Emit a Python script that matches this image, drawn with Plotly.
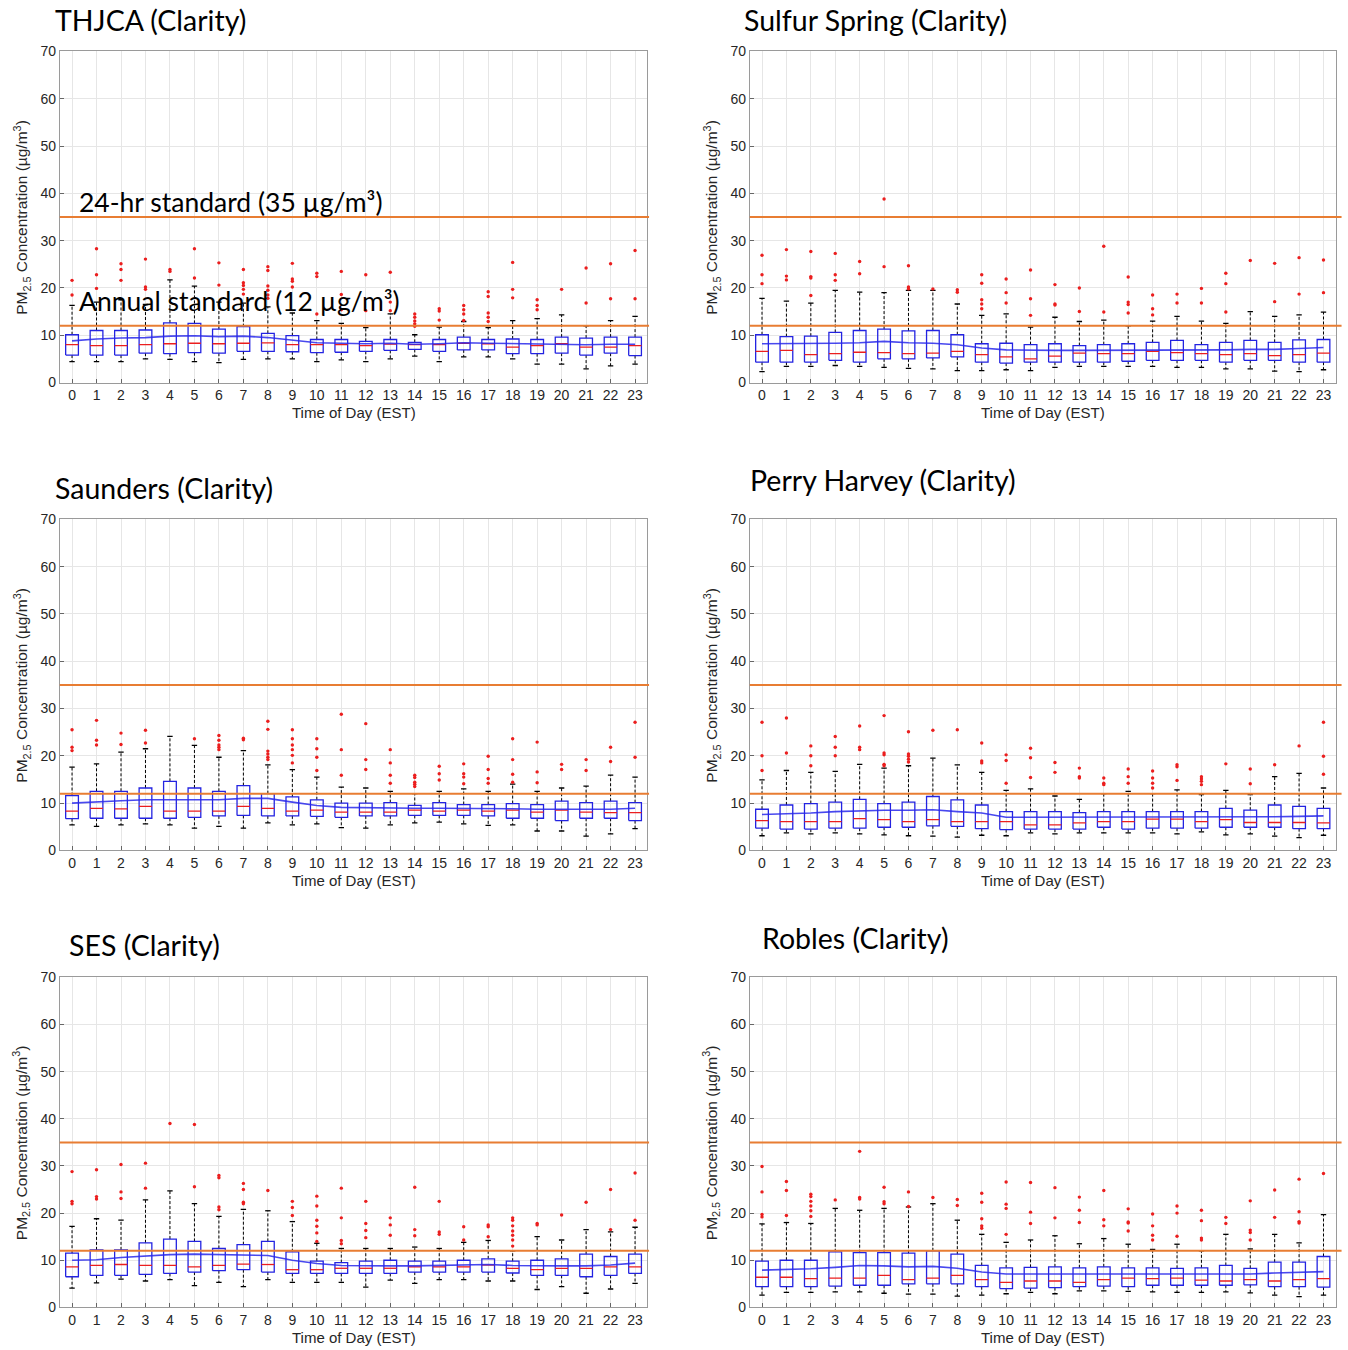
import plotly.graph_objects as go

# ---------------------------------------------------------------------------
# Hourly PM2.5 box-plot statistics (µg/m³) for six Clarity sensor sites
# ---------------------------------------------------------------------------
HOURS = list(range(24))
HOUR_LABELS = [str(h) for h in HOURS]

STANDARD_24HR = 35
STANDARD_ANNUAL = 12

# THJCA
THJCA_LO = [4.4, 4.4, 4.4, 5.0, 4.9, 4.4, 4.2, 4.9, 5.0, 5.0, 4.4, 4.8, 4.4, 5.0, 5.6, 4.4, 5.4, 5.4, 5.0, 3.9, 3.9, 2.9, 3.5, 3.9]
THJCA_Q1 = [5.8, 5.8, 5.8, 6.2, 6.1, 6.3, 6.2, 6.6, 6.6, 6.5, 6.3, 6.4, 6.6, 6.8, 7.0, 6.6, 6.9, 6.9, 6.1, 6.1, 6.2, 5.8, 6.2, 5.7]
THJCA_MED = [8.0, 7.8, 7.8, 8.0, 8.2, 8.3, 8.2, 8.3, 8.4, 8.0, 8.0, 8.0, 7.8, 8.1, 8.0, 8.0, 8.3, 8.2, 7.5, 7.8, 8.2, 7.5, 7.5, 7.8]
THJCA_Q3 = [10.1, 11.0, 11.0, 11.1, 12.6, 12.5, 11.3, 11.8, 10.4, 9.9, 9.1, 9.1, 8.7, 9.1, 8.5, 9.1, 9.6, 9.1, 9.2, 9.1, 9.6, 9.4, 9.6, 9.6]
THJCA_HI = [16.3, 17.0, 17.5, 16.5, 21.7, 20.4, 17.0, 16.8, 16.0, 14.7, 13.1, 12.5, 11.6, 14.5, 10.1, 11.7, 12.9, 11.6, 13.1, 13.5, 14.3, 12.0, 13.1, 14.0]
THJCA_MEAN = [8.8, 9.2, 9.4, 9.5, 9.8, 9.9, 9.7, 9.8, 9.5, 9.0, 8.4, 8.3, 8.2, 8.3, 8.1, 8.2, 8.4, 8.3, 8.2, 8.1, 8.1, 8.0, 8.1, 8.1]
THJCA_OUT = [
    [21.6, 18.5], [28.3, 22.8, 19.9], [25.1, 23.9, 21.6], [26.1, 20.2, 19.7],
    [23.9, 23.5], [28.3, 22.1], [25.3, 20.6], [23.9, 21.1, 20.5, 19.7, 18.7],
    [24.5, 23.7, 20.4, 19.5, 18.5, 17.8], [25.2, 21.9, 21.4, 20.2], [23.1, 22.4, 14.5], [23.5, 18.6, 15.4],
    [22.8, 15.2], [23.3, 17.0, 15.2], [14.5, 13.8, 13.0, 12.4, 11.9], [15.6, 15.1, 13.2],
    [16.3, 15.4, 14.5, 13.1], [19.2, 18.2, 14.7, 13.8, 12.9], [25.4, 19.7, 17.9], [17.5, 16.3, 15.4],
    [19.7], [24.2, 16.8], [25.1, 17.7], [27.9, 17.7],
]

# Sulfur Spring
SULFUR_LO = [2.3, 3.4, 3.4, 3.6, 3.4, 3.2, 3.0, 2.9, 2.5, 2.5, 2.7, 2.5, 3.2, 3.4, 3.4, 3.4, 3.4, 3.2, 3.2, 2.9, 2.9, 2.4, 2.3, 2.7]
SULFUR_Q1 = [4.3, 4.3, 4.3, 4.7, 4.3, 5.0, 5.0, 5.2, 5.4, 4.3, 4.1, 4.3, 4.3, 4.3, 4.3, 4.5, 4.7, 4.7, 4.7, 4.3, 4.7, 4.7, 4.3, 4.3]
SULFUR_MED = [6.6, 6.8, 5.9, 6.1, 6.4, 6.3, 6.1, 6.2, 6.6, 5.9, 5.4, 5.0, 5.6, 6.2, 6.1, 6.1, 6.6, 6.3, 6.1, 5.9, 6.1, 5.7, 5.9, 6.2]
SULFUR_Q3 = [10.1, 9.7, 9.8, 10.6, 11.0, 11.3, 10.9, 11.0, 10.1, 8.2, 8.3, 8.0, 8.2, 7.8, 8.0, 8.2, 8.5, 8.9, 8.0, 8.5, 8.9, 8.5, 9.0, 9.1]
SULFUR_HI = [17.8, 17.2, 16.8, 19.5, 19.1, 19.0, 19.5, 19.5, 16.6, 14.2, 14.5, 11.7, 13.8, 12.9, 13.2, 12.0, 13.0, 14.0, 13.0, 12.5, 15.0, 14.0, 14.3, 14.9]
SULFUR_MEAN = [8.2, 8.2, 8.2, 8.3, 8.4, 8.7, 8.4, 8.3, 8.0, 7.3, 6.9, 6.8, 6.8, 6.8, 6.8, 6.9, 6.9, 6.9, 6.9, 6.9, 7.0, 7.0, 7.2, 7.4]
SULFUR_OUT = [
    [26.9, 22.8, 20.9], [28.1, 22.5, 21.7], [27.7, 22.4, 22.1, 18.4], [27.3, 22.8, 21.6],
    [25.6, 23.0], [38.8, 24.5], [24.7, 20.2, 19.8], [19.8],
    [19.6, 19.1], [22.8, 21.0, 17.5, 16.6, 15.6], [21.9, 19.0, 16.8], [23.8, 17.7, 14.2],
    [20.7, 16.6, 16.4], [20.0, 15.0], [28.8, 14.9], [22.3, 17.0, 16.5, 14.7],
    [18.5, 15.6, 14.3], [18.7, 16.8], [19.9, 16.8], [23.1, 20.9, 14.9],
    [25.8], [25.2, 17.1], [26.4, 18.7], [25.9, 19.0],
]

# Saunders
SAUNDERS_LO = [5.4, 5.1, 5.4, 5.6, 5.4, 4.7, 5.1, 4.7, 5.8, 5.4, 5.6, 4.8, 4.7, 5.4, 5.8, 6.0, 5.6, 5.3, 5.4, 4.1, 4.1, 3.0, 3.5, 4.6]
SAUNDERS_Q1 = [6.7, 6.8, 6.8, 6.8, 6.8, 7.0, 7.3, 7.4, 7.3, 7.3, 7.2, 7.0, 7.3, 7.3, 7.4, 7.4, 7.4, 7.3, 6.8, 6.8, 6.3, 6.8, 6.8, 6.3]
SAUNDERS_MED = [8.3, 8.9, 8.8, 9.3, 8.3, 8.3, 8.3, 9.3, 8.9, 8.3, 8.5, 8.1, 8.1, 8.1, 8.5, 8.3, 8.5, 8.3, 8.5, 8.1, 8.5, 8.1, 8.0, 8.0]
SAUNDERS_Q3 = [11.6, 12.5, 12.5, 13.2, 14.6, 13.2, 12.5, 13.7, 12.0, 11.3, 10.7, 10.0, 10.0, 10.1, 9.5, 10.1, 9.7, 9.7, 9.9, 9.7, 10.4, 10.1, 10.4, 10.1]
SAUNDERS_HI = [17.6, 18.3, 20.8, 21.5, 24.1, 22.2, 19.7, 21.1, 18.1, 17.1, 15.5, 13.4, 13.2, 12.5, 12.0, 12.5, 13.0, 12.5, 14.0, 12.5, 13.2, 13.6, 15.9, 15.5]
SAUNDERS_MEAN = [10.0, 10.3, 10.5, 10.7, 10.7, 10.7, 10.7, 11.0, 11.0, 10.2, 9.5, 9.1, 9.0, 8.9, 8.9, 8.9, 8.9, 8.9, 8.8, 8.7, 8.7, 8.7, 8.7, 8.9]
SAUNDERS_OUT = [
    [25.5, 21.8, 21.1], [27.5, 23.3, 22.3], [24.8, 22.4], [25.4, 22.7],
    [], [23.6], [24.3, 23.3, 22.3, 21.8, 21.3], [23.7, 23.4],
    [27.3, 25.6, 21.0, 20.4, 19.7, 19.2], [25.5, 23.6, 22.3, 21.3, 20.1, 18.5], [23.6, 21.5, 19.7, 16.9], [28.8, 21.3, 15.9],
    [26.8, 19.2, 17.1], [21.3, 18.5, 15.9, 14.2], [15.9, 15.4, 14.4, 14.0, 13.5], [17.8, 16.2, 14.9],
    [18.3, 16.2, 15.5, 14.1], [19.9, 17.1, 15.2, 14.2], [23.6, 19.2, 16.1, 14.4], [22.9, 16.6, 14.3],
    [18.2, 17.1], [19.2, 16.9], [21.8, 18.8], [27.1, 19.7],
]

# Perry Harvey
PERRY_LO = [3.1, 3.7, 3.5, 3.7, 3.5, 3.3, 3.1, 3.0, 2.8, 3.2, 3.1, 3.7, 3.5, 3.7, 3.7, 3.7, 3.7, 3.5, 3.9, 3.3, 3.5, 3.0, 2.7, 3.2]
PERRY_Q1 = [4.7, 4.5, 4.5, 4.7, 4.7, 4.9, 4.9, 5.2, 5.1, 4.6, 4.4, 4.5, 4.5, 4.5, 4.9, 4.5, 4.7, 4.7, 4.7, 4.9, 4.9, 4.9, 4.6, 4.6]
PERRY_MED = [6.3, 6.1, 6.1, 6.1, 6.7, 6.5, 6.1, 6.5, 6.1, 6.1, 6.1, 5.4, 5.4, 5.8, 6.1, 6.1, 6.6, 6.6, 6.1, 6.5, 5.9, 5.9, 5.9, 5.8]
PERRY_Q3 = [8.7, 9.6, 9.9, 10.2, 10.8, 9.9, 10.2, 11.4, 10.7, 9.6, 8.2, 8.2, 8.2, 8.0, 8.2, 8.2, 8.2, 8.2, 8.2, 8.9, 8.5, 9.6, 9.3, 8.9]
PERRY_HI = [14.9, 16.9, 16.5, 16.7, 18.2, 17.4, 17.9, 19.5, 18.1, 16.5, 12.7, 13.0, 11.5, 10.8, 12.0, 12.5, 12.0, 12.8, 11.8, 12.7, 11.8, 15.6, 16.3, 13.2]
PERRY_MEAN = [7.6, 7.7, 7.9, 8.2, 8.4, 8.5, 8.5, 8.6, 8.2, 7.9, 7.0, 7.0, 7.0, 7.0, 7.0, 7.0, 7.0, 7.0, 7.0, 7.0, 7.0, 7.1, 7.2, 7.3]
PERRY_OUT = [
    [27.1, 20.0, 16.9], [28.0, 20.6], [22.1, 20.0, 17.9], [24.1, 21.8, 20.0],
    [26.3, 21.8, 21.3], [28.5, 20.6, 20.2, 18.2, 17.9], [25.1, 20.4, 19.9, 19.3, 18.7], [25.4],
    [25.5], [22.7, 18.9, 18.5], [20.2, 19.0, 14.2], [21.6, 19.6, 15.4],
    [18.6, 16.5], [17.4, 15.6, 15.3], [15.3, 14.2, 13.9], [17.2, 15.6, 14.2],
    [16.8, 15.3, 14.2, 13.2], [18.1, 17.7, 14.8], [15.6, 15.1, 14.6, 13.9], [18.3],
    [17.2, 14.1], [18.1], [22.1], [27.1, 19.9, 16.1],
]

# SES
SES_LO = [4.1, 5.2, 6.0, 5.6, 5.9, 4.6, 5.3, 4.4, 5.9, 5.3, 5.3, 5.3, 4.3, 5.8, 5.1, 5.9, 5.9, 5.6, 5.6, 3.8, 4.4, 3.0, 3.9, 5.1]
SES_Q1 = [6.5, 6.8, 6.8, 7.0, 7.2, 7.5, 7.8, 8.0, 7.5, 7.2, 7.2, 7.2, 7.2, 7.2, 7.5, 7.5, 7.5, 7.5, 7.3, 6.8, 6.8, 6.5, 6.8, 7.2]
SES_MED = [8.6, 8.9, 9.1, 8.9, 8.9, 8.6, 8.9, 9.2, 9.1, 8.0, 8.0, 8.3, 8.3, 8.3, 8.6, 8.6, 8.6, 9.0, 8.3, 8.0, 8.3, 8.3, 8.6, 8.6]
SES_Q3 = [11.5, 12.2, 12.2, 13.7, 14.5, 14.0, 12.5, 13.3, 14.0, 11.8, 9.8, 9.5, 9.8, 10.0, 9.8, 9.8, 10.0, 10.3, 9.8, 10.0, 10.3, 11.3, 10.8, 11.3]
SES_HI = [17.2, 18.8, 18.5, 22.8, 24.7, 22.0, 19.3, 20.8, 20.5, 18.2, 13.6, 12.5, 12.5, 12.5, 12.8, 12.5, 13.8, 14.2, 12.0, 15.0, 14.3, 16.5, 16.0, 17.0]
SES_MEAN = [10.0, 10.1, 10.6, 10.9, 11.2, 11.3, 11.2, 11.2, 11.0, 10.0, 9.3, 8.9, 8.8, 8.8, 8.8, 8.9, 8.9, 9.1, 8.9, 8.8, 8.8, 8.8, 9.0, 9.4]
SES_OUT = [
    [28.8, 22.5, 22.0], [29.2, 23.5, 23.0], [30.3, 24.5, 23.1], [30.6, 25.3],
    [39.0], [38.8, 25.6], [28.0, 27.5, 21.3, 20.7], [26.3, 25.0, 22.3, 22.0],
    [24.8], [22.5, 21.2, 19.5], [23.6, 21.5, 18.5, 17.2, 15.8, 14.0], [25.3, 19.0, 14.2, 13.5],
    [22.5, 17.8, 16.3, 14.8], [19.0, 17.5, 15.3], [25.5, 16.5, 15.2], [22.5, 16.0, 15.5],
    [17.1, 14.3], [17.5, 17.1, 15.0], [19.0, 18.5, 17.3, 16.2, 15.3, 14.3, 13.0], [17.8, 17.5],
    [19.6], [22.3], [25.0, 16.5], [28.5, 18.5],
]

# Robles
ROBLES_LO = [2.6, 3.2, 3.2, 3.3, 3.3, 3.0, 2.8, 2.8, 2.4, 2.6, 2.9, 3.2, 2.9, 3.5, 3.5, 3.4, 3.3, 3.2, 3.2, 3.3, 3.1, 2.6, 2.3, 2.6]
ROBLES_Q1 = [4.4, 4.4, 4.4, 4.5, 4.7, 4.7, 5.0, 5.0, 5.0, 4.4, 4.0, 4.1, 4.2, 4.4, 4.5, 4.4, 4.7, 4.7, 4.7, 4.7, 4.8, 4.4, 4.4, 4.3]
ROBLES_MED = [6.4, 6.4, 6.1, 6.2, 6.2, 6.8, 5.9, 6.2, 6.8, 5.9, 5.3, 5.6, 5.6, 5.3, 5.9, 6.2, 6.1, 6.2, 5.8, 5.6, 5.9, 5.6, 5.9, 6.1]
ROBLES_Q3 = [9.8, 10.0, 10.0, 11.8, 11.6, 11.6, 11.5, 12.0, 11.3, 8.9, 8.4, 8.5, 8.6, 8.4, 8.6, 8.4, 8.4, 8.3, 8.4, 8.9, 8.3, 9.6, 9.6, 10.8]
ROBLES_HI = [17.7, 18.0, 17.8, 21.0, 20.6, 21.0, 21.3, 22.0, 18.5, 15.5, 13.8, 14.3, 15.2, 13.5, 14.6, 13.4, 12.3, 13.4, 12.0, 15.5, 12.4, 15.5, 13.7, 19.7]
ROBLES_MEAN = [7.9, 8.0, 8.2, 8.5, 8.9, 8.8, 8.6, 8.7, 8.3, 7.5, 7.1, 7.1, 7.1, 7.1, 7.1, 7.1, 7.1, 7.1, 7.1, 7.1, 7.1, 7.3, 7.4, 7.6]
ROBLES_OUT = [
    [29.9, 24.5, 19.7, 19.2], [26.7, 24.8, 19.5], [24.0, 23.5, 22.5, 21.5, 20.5, 19.3], [22.8],
    [33.1, 23.3, 23.0], [25.5, 22.4, 22.0], [24.5, 21.4], [23.3],
    [22.9, 21.6], [24.2, 22.3, 18.8, 17.3, 16.8], [26.6, 21.9, 21.0, 15.5], [26.5, 20.2, 17.8],
    [25.4, 19.0], [23.4, 20.6, 18.0], [24.8, 18.6, 17.3], [20.9, 18.1, 17.9, 16.2],
    [19.8, 17.3, 15.3, 14.3], [21.5, 20.0, 15.1], [20.6, 18.4, 14.7, 14.3], [19.1, 17.8],
    [22.6, 16.4, 15.9, 14.3], [24.9, 19.1], [27.2, 20.3, 18.2, 17.9], [28.4],
]

SITES = [
    ("THJCA (Clarity)", THJCA_LO, THJCA_Q1, THJCA_MED, THJCA_Q3, THJCA_HI, THJCA_MEAN, THJCA_OUT),
    ("Sulfur Spring (Clarity)", SULFUR_LO, SULFUR_Q1, SULFUR_MED, SULFUR_Q3, SULFUR_HI, SULFUR_MEAN, SULFUR_OUT),
    ("Saunders (Clarity)", SAUNDERS_LO, SAUNDERS_Q1, SAUNDERS_MED, SAUNDERS_Q3, SAUNDERS_HI, SAUNDERS_MEAN, SAUNDERS_OUT),
    ("Perry Harvey (Clarity)", PERRY_LO, PERRY_Q1, PERRY_MED, PERRY_Q3, PERRY_HI, PERRY_MEAN, PERRY_OUT),
    ("SES (Clarity)", SES_LO, SES_Q1, SES_MED, SES_Q3, SES_HI, SES_MEAN, SES_OUT),
    ("Robles (Clarity)", ROBLES_LO, ROBLES_Q1, ROBLES_MED, ROBLES_Q3, ROBLES_HI, ROBLES_MEAN, ROBLES_OUT),
]

# ---------------------------------------------------------------------------
# Page geometry (pixels)
# ---------------------------------------------------------------------------
W, H = 1348, 1350
COLS = [(59.8, 647.3), (749.8, 1335.7)]            # plot-area left/right
ROWS = [(44, 379), (517.5, 852.5), (981, 1315)]    # plot-area top/bottom
TITLE_POS = [(53, 12.5), (742, 12.5), (53, 486), (748, 478), (67, 948.5), (760, 941.5)]
STD_LABEL_Y = [196, 297]
STD_LINE_END = [1.003, 1.01]                         # standard lines run a little past the frame

BOX_HALF = 0.26
CAP_HALF = 0.11

BLUE = "rgb(35,35,225)"
RED = "rgb(235,30,30)"
ORANGE = "rgb(232,125,50)"
TEXT = "#262626"
AX_FONT = "Liberation Sans, Arial, sans-serif"
TITLE_FONT = "Lato, Carlito, Calibri, sans-serif"


def px_x(v):
    return v / W


def px_y(v):
    return 1 - v / H


fig = go.Figure()
layout_axes = {}
annotations = []
shapes = []

for i, (title, lo, q1, med, q3, hi, mean, out) in enumerate(SITES):
    col, row = i % 2, i // 2
    n = i + 1
    xa = "x" if n == 1 else f"x{n}"
    ya = "y" if n == 1 else f"y{n}"

    # whiskers (dashed black)
    wx, wy = [], []
    for h in HOURS:
        wx += [h, h, None, h, h, None]
        wy += [q3[h], hi[h], None, q1[h], lo[h], None]
    fig.add_trace(go.Scatter(x=wx, y=wy, mode="lines", xaxis=xa, yaxis=ya,
                             line=dict(color="black", width=1, dash="3px,2px"),
                             hoverinfo="skip", showlegend=False))
    # whisker caps
    cx, cy = [], []
    for h in HOURS:
        cx += [h - CAP_HALF, h + CAP_HALF, None, h - CAP_HALF, h + CAP_HALF, None]
        cy += [hi[h], hi[h], None, lo[h], lo[h], None]
    fig.add_trace(go.Scatter(x=cx, y=cy, mode="lines", xaxis=xa, yaxis=ya,
                             line=dict(color="black", width=1.3),
                             hoverinfo="skip", showlegend=False))
    # interquartile boxes
    bx, by = [], []
    for h in HOURS:
        bx += [h - BOX_HALF, h + BOX_HALF, h + BOX_HALF, h - BOX_HALF, h - BOX_HALF, None]
        by += [q1[h], q1[h], q3[h], q3[h], q1[h], None]
    fig.add_trace(go.Scatter(x=bx, y=by, mode="lines", xaxis=xa, yaxis=ya,
                             line=dict(color=BLUE, width=1.3),
                             hoverinfo="skip", showlegend=False))
    # medians
    mx, my = [], []
    for h in HOURS:
        mx += [h - BOX_HALF, h + BOX_HALF, None]
        my += [med[h], med[h], None]
    fig.add_trace(go.Scatter(x=mx, y=my, mode="lines", xaxis=xa, yaxis=ya,
                             line=dict(color=RED, width=1.3),
                             hoverinfo="skip", showlegend=False))
    # hourly mean
    fig.add_trace(go.Scatter(x=HOURS, y=mean, mode="lines", xaxis=xa, yaxis=ya,
                             line=dict(color="rgba(40,40,235,0.85)", width=1.6),
                             hoverinfo="skip", showlegend=False))
    # outliers
    ox, oy = [], []
    for h in HOURS:
        for v in out[h]:
            ox.append(h)
            oy.append(v)
    fig.add_trace(go.Scatter(x=ox, y=oy, mode="markers", xaxis=xa, yaxis=ya,
                             marker=dict(symbol="circle", size=3.4, color=RED,
                                         line=dict(width=0)),
                             hoverinfo="skip", showlegend=False))

    left, right = COLS[col]
    top, bottom = ROWS[row]
    common = dict(showgrid=True, gridcolor="#e6e6e6", gridwidth=1,
                  showline=True, linecolor="#9a9a9a", linewidth=1, mirror=True,
                  ticks="inside", ticklen=4, tickcolor="#666",
                  tickfont=dict(family=AX_FONT, size=14, color=TEXT),
                  zeroline=False, fixedrange=True)
    layout_axes["xaxis" if n == 1 else f"xaxis{n}"] = dict(
        domain=[px_x(left), px_x(right)], range=[-0.5, 23.5], anchor=ya,
        tickmode="array", tickvals=HOURS, ticktext=HOUR_LABELS, **common)
    layout_axes["yaxis" if n == 1 else f"yaxis{n}"] = dict(
        domain=[px_y(bottom), px_y(top)], range=[0, 70], anchor=xa,
        tickmode="linear", tick0=0, dtick=10, **common)

    # air-quality standards
    for level in (STANDARD_24HR, STANDARD_ANNUAL):
        shapes.append(dict(type="line", xref=f"{xa} domain", yref=ya,
                           x0=0, x1=STD_LINE_END[col], y0=level, y1=level,
                           line=dict(color=ORANGE, width=2)))

    # panel title
    tx, ty = TITLE_POS[i]
    annotations.append(dict(text=title, xref="paper", yref="paper",
                            x=px_x(tx), y=px_y(ty), xanchor="left", yanchor="middle",
                            showarrow=False,
                            font=dict(family=TITLE_FONT, size=28.5, color="black")))
    # axis titles
    annotations.append(dict(text="Time of Day (EST)", xref="paper", yref="paper",
                            x=px_x((left + right) / 2), y=px_y(bottom + 30),
                            xanchor="center", yanchor="middle", showarrow=False,
                            font=dict(family=AX_FONT, size=15, color=TEXT)))
    annotations.append(dict(text="PM<sub>2.5</sub> Concentration (µg/m<sup>3</sup>)",
                            xref="paper", yref="paper", textangle=-90,
                            x=px_x(left - 38), y=px_y((top + bottom) / 2),
                            xanchor="center", yanchor="middle", showarrow=False,
                            font=dict(family=AX_FONT, size=15.5, color=TEXT)))

# standard labels on the first panel
annotations.append(dict(text=f"24-hr standard ({STANDARD_24HR} µg/m³)", xref="paper", yref="paper",
                        x=px_x(77), y=px_y(STD_LABEL_Y[0]), xanchor="left", yanchor="middle",
                        showarrow=False, font=dict(family=TITLE_FONT, size=26.5, color="black")))
annotations.append(dict(text=f"Annual standard ({STANDARD_ANNUAL} µg/m³)", xref="paper", yref="paper",
                        x=px_x(77), y=px_y(STD_LABEL_Y[1]), xanchor="left", yanchor="middle",
                        showarrow=False, font=dict(family=TITLE_FONT, size=26.5, color="black")))

fig.update_layout(width=W, height=H, margin=dict(l=0, r=0, t=0, b=0),
                  paper_bgcolor="white", plot_bgcolor="white",
                  annotations=annotations, shapes=shapes, showlegend=False,
                  **layout_axes)

fig.write_html("out.html")
